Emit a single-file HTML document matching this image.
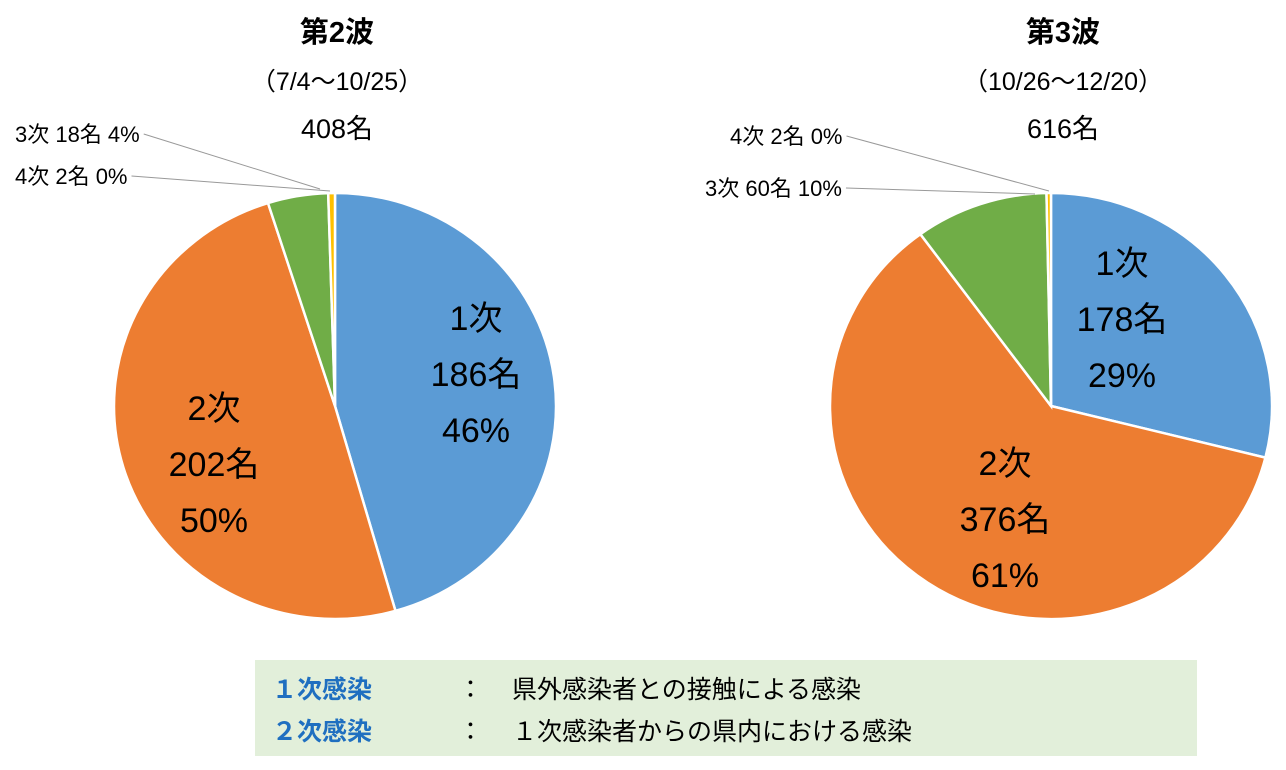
<!DOCTYPE html>
<html><head><meta charset="utf-8"><style>
body{margin:0;background:#fff;width:1286px;height:765px;overflow:hidden;font-family:"Liberation Sans","Noto Sans CJK JP",sans-serif}
svg text{font-family:"Liberation Sans","Noto Sans CJK JP",sans-serif}
</style></head><body>
<svg width="1286" height="765">
<g id="pies"></g>
<rect x="255" y="660" width="942" height="96" fill="#E2EFDA"/>
<g font-size="25">
<text x="272" y="698" fill="#1F6FC0" font-weight="bold">１次感染</text>
<text x="458" y="698" fill="#000">：</text>
<text x="512" y="698" fill="#000">県外感染者との接触による感染</text>
<text x="272" y="740" fill="#1F6FC0" font-weight="bold">２次感染</text>
<text x="458" y="740" fill="#000">：</text>
<text x="512" y="740" fill="#000">１次感染者からの県内における感染</text>
</g>
</svg>
<script>
const categories=["1次","2次","3次","4次"];
const colors=["#5B9BD5","#ED7D31","#70AD47","#FFC000"];
const wave2Values=[186,202,18,2];
const wave3Values=[178,376,60,2];
const titles=["第2波","第3波"];
const periods=["（7/4～10/25）","（10/26～12/20）"];
const NS="http://www.w3.org/2000/svg";
const root=document.getElementById('pies');
function mk(tag,attrs,parent){const e=document.createElementNS(NS,tag);for(const k in attrs)e.setAttribute(k,attrs[k]);parent.appendChild(e);return e;}
function pt(c,a,f){return [c.cx+c.rx*f*Math.sin(a),c.cy-c.ry*f*Math.cos(a)];}
const pies=[
 {vals:wave2Values,cx:335,cy:406,rx:221,ry:213,tx:337,big:[[476,330],[214,420]],small:[[15,142],[15,184]],leaderTo:[[320,189],[330,191]]},
 {vals:wave3Values,cx:1051,cy:406,rx:221,ry:213,tx:1063,big:[[1122,275],[1005,475]],small:[[705,196],[730,144]],leaderTo:[[1035,194],[1049,191]]}
];
pies.forEach((p,pi)=>{
 const g=mk('g',{},root);
 
 
 const total=p.vals.reduce((a,b)=>a+b,0);
 let t=mk('text',{x:p.tx,y:42,'font-size':29,'font-weight':'bold','text-anchor':'middle'},g);t.textContent=titles[pi];
 
 t=mk('text',{x:p.tx,y:90,'font-size':25,'text-anchor':'middle'},g);t.textContent=periods[pi];
 
 t=mk('text',{x:p.tx,y:138,'font-size':27,'text-anchor':'middle'},g);t.textContent=total+'名';
 
 let a0=0;
 p.vals.forEach((v,i)=>{
  const a1=a0+v/total*2*Math.PI;
  const s=pt(p,a0,1),e=pt(p,a1,1);
  const large=(a1-a0)>Math.PI?1:0;
  const path=mk('path',{d:`M${p.cx},${p.cy}L${s[0]},${s[1]}A${p.rx},${p.ry} 0 ${large} 1 ${e[0]},${e[1]}Z`,fill:colors[i],stroke:'#fff','stroke-width':2.5},g);
  
  
  const pct=Math.round(v/total*100)+'%';
  if(i<2){
   const [x,y]=p.big[i];
   [categories[i],v+'名',pct].forEach((s2,k)=>{
    const tt=mk('text',{x:x,y:y+k*56,'font-size':34,'text-anchor':'middle'},g);tt.textContent=s2;
    
   });
  } else {
   const [x,y]=p.small[i-2];
   const tt=mk('text',{x:x,y:y,'font-size':22},g);tt.textContent=categories[i]+' '+v+'名 '+pct;
   
   const w=tt.getComputedTextLength();
   const lt=p.leaderTo[i-2];
   const ln=mk('polyline',{points:`${x+w+4},${y-8} ${lt[0]},${lt[1]}`,fill:'none',stroke:'#999','stroke-width':1},g);
   
  }
  a0=a1;
 });
});
</script>
</body></html>
